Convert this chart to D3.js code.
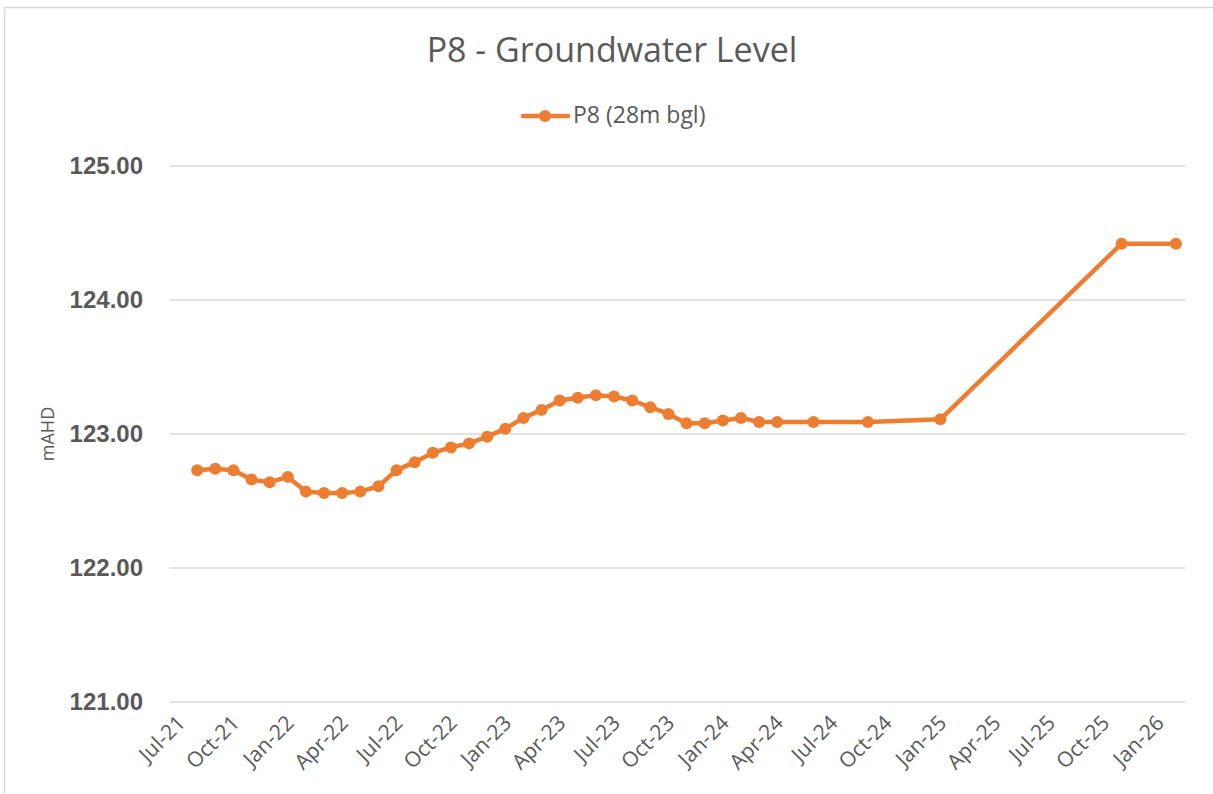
<!DOCTYPE html>
<html>
<head>
<meta charset="utf-8">
<script src="https://cdn.jsdelivr.net/npm/d3@7"></script>
<style>
  body { margin: 0; background: #fff; }
  svg text { fill: #595959; }
</style>
</head>
<body>
<div id="chart"></div>
<script>
// readings, month (yyyy-mm) and level in mAHD
var months = ["2021-08","2021-09","2021-10","2021-11","2021-12","2022-01","2022-02","2022-03","2022-04","2022-05",
  "2022-06","2022-07","2022-08","2022-09","2022-10","2022-11","2022-12","2023-01","2023-02","2023-03",
  "2023-04","2023-05","2023-06","2023-07","2023-08","2023-09","2023-10","2023-11","2023-12","2024-01",
  "2024-02","2024-03","2024-04","2024-06","2024-09","2025-01","2025-11","2026-02"];
var levels = [122.73,122.74,122.73,122.66,122.64,122.68,122.57,122.56,122.56,122.57,
  122.61,122.73,122.79,122.86,122.90,122.93,122.98,123.04,123.12,123.18,
  123.25,123.27,123.29,123.28,123.25,123.20,123.15,123.08,123.08,123.10,
  123.12,123.09,123.09,123.09,123.09,123.11,124.42,124.42];
var yTicks = [121, 122, 123, 124, 125];
var seriesName = "P8 (28m bgl)";

var width = 1213, height = 794;
var margin = {top: 166, right: 28, bottom: 92, left: 170};
var plotW = width - margin.left - margin.right,
    plotH = height - margin.top - margin.bottom;
var orange = "#ED7D31";

var parseMonth = d3.timeParse("%Y-%m");
var fmtMonth = d3.timeFormat("%b-%y");
var keyMonth = d3.timeFormat("%Y-%m");

var data = months.map(function(m, i) { return {date: parseMonth(m), value: levels[i]}; });

// Excel-style date axis with month base unit: one slot per month
var allMonths = d3.timeMonth.range(new Date(2021, 6, 1), new Date(2026, 2, 1));
var x = d3.scaleBand()
    .domain(allMonths.map(keyMonth))
    .range([0, plotW])
    .padding(0);
var y = d3.scaleLinear().domain([121, 125]).range([plotH, 0]);

function xPos(d) { return x(keyMonth(d)) + x.bandwidth() / 2; }

var svg = d3.select("#chart").append("svg")
    .attr("width", width)
    .attr("height", height);

// chart border
svg.append("rect")
    .attr("x", 4.5).attr("y", 7.5)
    .attr("width", width + 10).attr("height", height + 10)
    .attr("fill", "none")
    .attr("stroke", "#D9D9D9")
    .attr("stroke-width", 1.5);

svg.append("text")
    .attr("x", 612).attr("y", 62)
    .attr("text-anchor", "middle")
    .style("font-family", "'Open Sans', sans-serif")
    .style("font-size", "34px")
    .text("P8 - Groundwater Level");

// legend
var leg = svg.append("g").attr("transform", "translate(523,116)");
leg.append("line")
    .attr("x1", 0).attr("x2", 45)
    .attr("stroke", orange).attr("stroke-width", 4.5).attr("stroke-linecap", "round");
leg.append("circle").attr("cx", 22).attr("r", 6).attr("fill", orange);
leg.append("text")
    .attr("x", 50).attr("y", 7)
    .style("font-family", "'Open Sans', sans-serif")
    .style("font-size", "23px")
    .text(seriesName);

var g = svg.append("g")
    .attr("transform", "translate(" + margin.left + "," + margin.top + ")");

// gridlines
g.append("g")
    .selectAll("line")
    .data(yTicks)
    .enter().append("line")
    .attr("x1", 0).attr("x2", plotW)
    .attr("y1", function(d) { return y(d); })
    .attr("y2", function(d) { return y(d); })
    .attr("stroke", "#D9D9D9")
    .attr("stroke-width", 1.5);

// y axis
var yAxis = g.append("g")
    .call(d3.axisLeft(y).tickValues(yTicks).tickFormat(d3.format(".2f")).tickSize(0).tickPadding(27));
yAxis.select(".domain").remove();
yAxis.selectAll("text")
    .style("font-family", "'Liberation Sans', Arial, sans-serif")
    .style("font-size", "24px")
    .style("font-weight", "bold")
    .attr("fill", "#595959");

svg.append("text")
    .attr("transform", "translate(54," + (margin.top + y(123)) + ") rotate(-90)")
    .attr("text-anchor", "middle")
    .style("font-family", "'Open Sans', sans-serif")
    .style("font-size", "18px")
    .text("mAHD");

// x axis, label every 3 months
var xTickKeys = allMonths.filter(function(d, i) { return i % 3 === 0; }).map(keyMonth);
var xAxis = g.append("g")
    .attr("transform", "translate(0," + plotH + ")")
    .call(d3.axisBottom(x).tickValues(xTickKeys)
        .tickFormat(function(k) { return fmtMonth(parseMonth(k)); })
        .tickSize(0));
xAxis.select(".domain").remove();
xAxis.selectAll("text")
    .style("font-family", "'Open Sans', sans-serif")
    .style("font-size", "21px")
    .attr("fill", "#595959")
    .attr("text-anchor", "end")
    .attr("dy", "0.35em")
    .attr("transform", "translate(0,15) rotate(-45)");

// series
var line = d3.line()
    .x(function(d) { return xPos(d.date); })
    .y(function(d) { return y(d.value); });

g.append("path")
    .datum(data)
    .attr("fill", "none")
    .attr("stroke", orange)
    .attr("stroke-width", 4.5)
    .attr("stroke-linejoin", "round")
    .attr("d", line);

g.selectAll(".dot")
    .data(data)
    .enter().append("circle")
    .attr("class", "dot")
    .attr("cx", function(d) { return xPos(d.date); })
    .attr("cy", function(d) { return y(d.value); })
    .attr("r", 6)
    .attr("fill", orange);
</script>
</body>
</html>
